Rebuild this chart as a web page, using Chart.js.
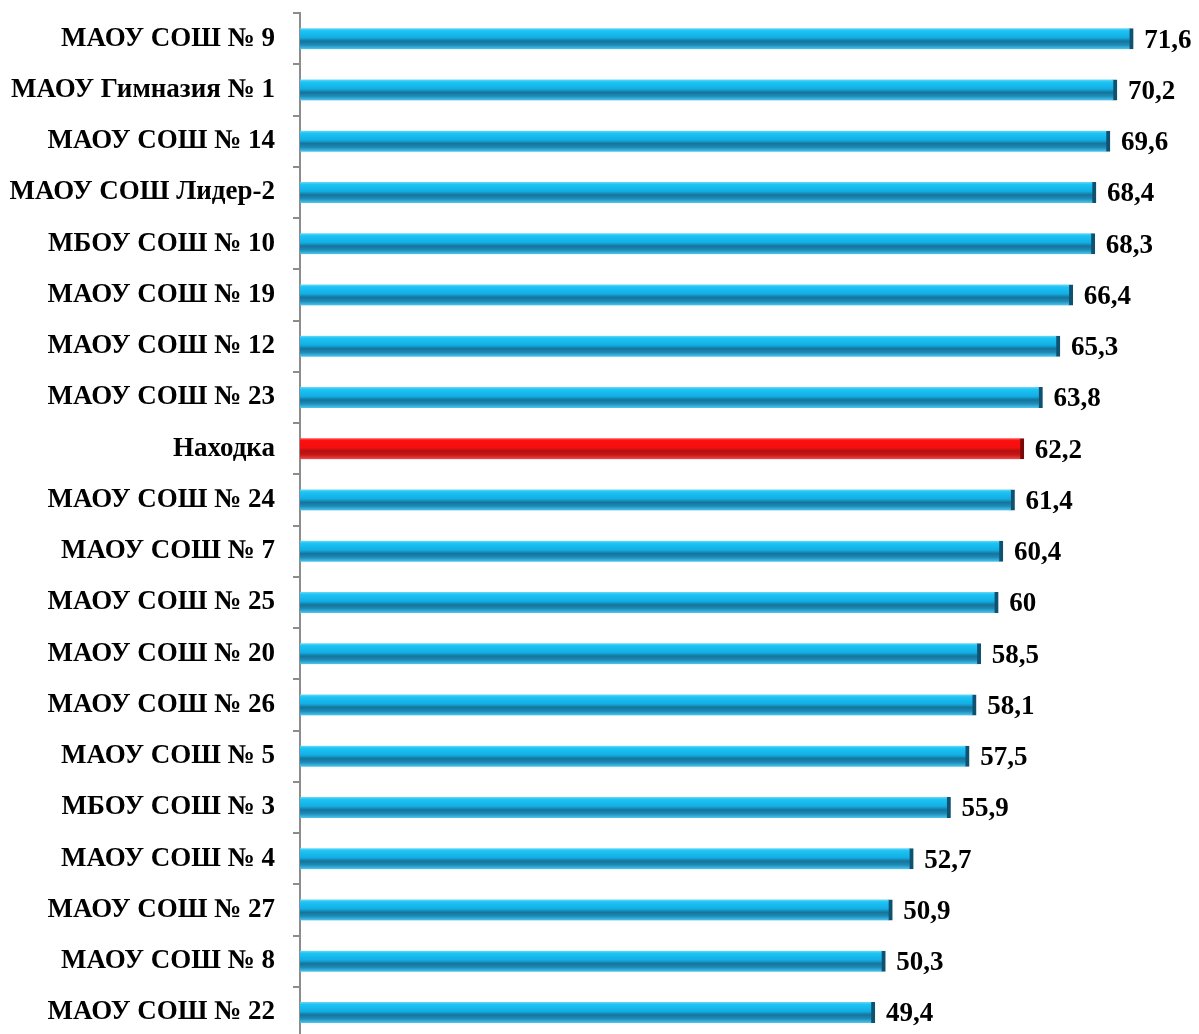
<!DOCTYPE html>
<html>
<head>
<meta charset="utf-8">
<script src="https://cdn.jsdelivr.net/npm/chart.js@4"></script>
<style>
  html, body { margin: 0; padding: 0; background: #fff; overflow: hidden; }
  #wrap { width: 1199px; height: 1040px; }
</style>
</head>
<body>
<div id="wrap"><canvas id="chart" width="1199" height="1040"></canvas></div>
<script>
  const schools = [
    "МАОУ СОШ № 9",
    "МАОУ Гимназия № 1",
    "МАОУ СОШ № 14",
    "МАОУ СОШ Лидер-2",
    "МБОУ СОШ № 10",
    "МАОУ СОШ № 19",
    "МАОУ СОШ № 12",
    "МАОУ СОШ № 23",
    "Находка",
    "МАОУ СОШ № 24",
    "МАОУ СОШ № 7",
    "МАОУ СОШ № 25",
    "МАОУ СОШ № 20",
    "МАОУ СОШ № 26",
    "МАОУ СОШ № 5",
    "МБОУ СОШ № 3",
    "МАОУ СОШ № 4",
    "МАОУ СОШ № 27",
    "МАОУ СОШ № 8",
    "МАОУ СОШ № 22",
  ];
  const scores = [71.6, 70.2, 69.6, 68.4, 68.3, 66.4, 65.3, 63.8, 62.2, 61.4, 60.4, 60, 58.5, 58.1, 57.5, 55.9, 52.7, 50.9, 50.3, 49.4];
  const highlight = "Находка";

  const FONT = "'Liberation Serif', 'Times New Roman', serif";
  const BAR_H = 21;

  function barGradient(context) {
    const chart = context.chart;
    const yScale = chart.scales.y;
    const red = schools[context.dataIndex] === highlight;
    const cy = yScale ? yScale.getPixelForValue(context.dataIndex) : NaN;
    if (!isFinite(cy)) return red ? "#ff0000" : "#16b4ea";
    const g = chart.ctx.createLinearGradient(0, cy - BAR_H / 2, 0, cy + BAR_H / 2);
    if (red) {
      g.addColorStop(0, "#ff5a5a");
      g.addColorStop(0.12, "#ff0d0d");
      g.addColorStop(0.45, "#f21010");
      g.addColorStop(0.62, "#b50f0f");
      g.addColorStop(0.8, "#c81818");
      g.addColorStop(1, "#f04a4a");
    } else {
      g.addColorStop(0, "#6fdaf7");
      g.addColorStop(0.12, "#1ec4f4");
      g.addColorStop(0.45, "#12aee4");
      g.addColorStop(0.62, "#17739a");
      g.addColorStop(0.8, "#1c8cb8");
      g.addColorStop(1, "#4cc6ee");
    }
    return g;
  }

  const valueLabels = {
    id: "valueLabels",
    afterDatasetsDraw(chart) {
      const ctx = chart.ctx;
      const meta = chart.getDatasetMeta(0);
      ctx.save();
      ctx.font = "bold 27px " + FONT;
      ctx.fillStyle = "#000";
      ctx.textAlign = "left";
      ctx.textBaseline = "middle";
      meta.data.forEach((bar, i) => {
        const text = String(scores[i]).replace(".", ",");
        ctx.fillText(text, bar.x + 11, bar.y + 2);
      });
      ctx.restore();
    },
  };

  const chart = new Chart(document.getElementById("chart"), {
    type: "bar",
    data: {
      labels: schools,
      datasets: [
        {
          data: scores,
          backgroundColor: barGradient,
          borderColor: (c) => (schools[c.dataIndex] === highlight ? "#7a0a0a" : "#0f5170"),
          borderWidth: { top: 0, bottom: 0, left: 0, right: 4 },
          borderSkipped: false,
          barThickness: BAR_H,
        },
      ],
    },
    options: {
      indexAxis: "y",
      responsive: false,
      animation: false,
      layout: { padding: { top: 13, right: 0, bottom: 2, left: 0 } },
      plugins: {
        legend: { display: false },
        tooltip: { enabled: false },
      },
      scales: {
        x: {
          display: false,
          min: 0,
          max: 77.25,
        },
        y: {
          afterFit: (scale) => {
            scale.width = 300;
            scale.paddingTop = 0;
            scale.paddingBottom = 0;
          },
          grid: {
            drawOnChartArea: false,
            offset: true,
            tickLength: 7,
            color: "#8c8c8c",
            lineWidth: 2,
          },
          border: { color: "#8c8c8c", width: 2 },
          ticks: {
            color: "#000",
            padding: 18,
            font: { family: FONT, size: 27, weight: "bold" },
          },
        },
      },
    },
    plugins: [valueLabels],
  });
  // second pass so the gradients see the laid-out y scale
  chart.update();
</script>
</body>
</html>
